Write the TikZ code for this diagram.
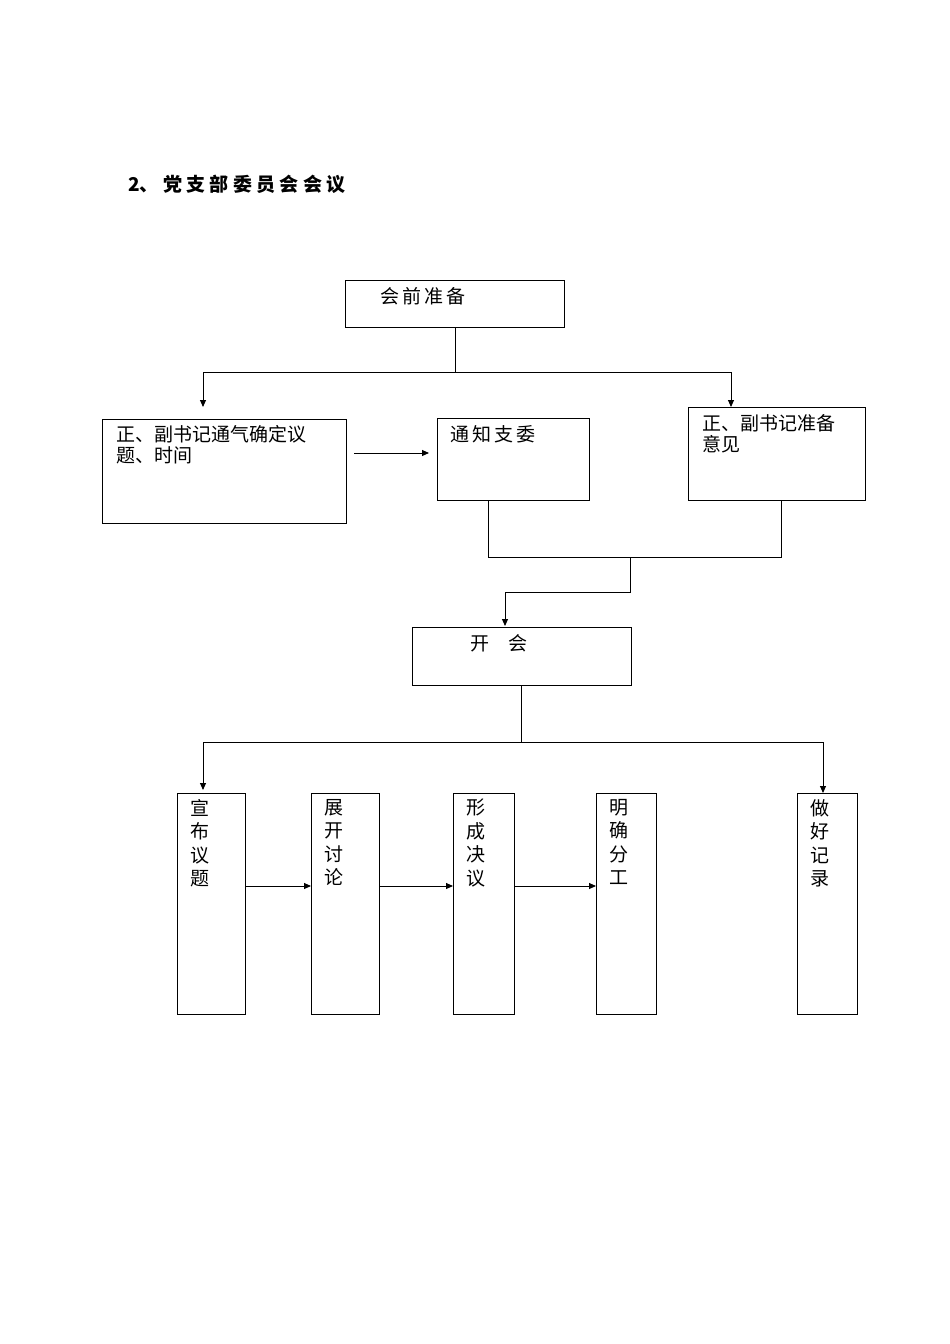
\documentclass[tikz,border=0pt]{standalone}
\usepackage{fontspec}
\newfontfamily\cjk{Noto Sans CJK SC}
\usetikzlibrary{arrows.meta,calc}
\begin{document}
\begin{tikzpicture}[x=1pt,y=-1pt,
  box/.style={draw,line width=0.9pt},
  txt/.style={anchor=north west,inner sep=0pt,font=\cjk\fontsize{19}{21}\selectfont,align=left},
  vtxt/.style={anchor=north west,inner sep=0pt,font=\cjk\fontsize{19}{23.5}\selectfont,align=left},
  ln/.style={line width=0.9pt},
  arr/.style={line width=0.9pt,-{Triangle[length=7pt,width=6pt]}}]
\useasboundingbox (0,0) rectangle (950,1344);
\node[anchor=west,inner sep=0pt,font=\cjk\bfseries\fontsize{19}{21}\selectfont] (title) at (128,184) {2、 党\ 支\ 部\ 委\ 员\ 会\ 会\ 议};
% boxes
\draw[box] (345,280) rectangle (564,327); \node[txt] (t0) at (380,287) {会\,前\,准\,备};
\coordinate (pre) at (455,327);
\draw[box] (102,419) rectangle (346,523); \node[txt] (t1) at (116,425) {正、副书记通气确定议\\题、时间};
\draw[box] (437,418) rectangle (589,500); \node[txt] (t2) at (450,425) {通\,知\,支\,委};
\draw[box] (688,407) rectangle (865,500); \node[txt] (t3) at (702,414) {正、副书记准备\\意见};
\draw[box] (412,627) rectangle (631,685); \node[txt] (t4) at (470,634) {开\quad 会};
\foreach \a/\b/\t/\n in {177/245/宣\\布\\议\\题/b1,311/379/展\\开\\讨\\论/b2,453/514/形\\成\\决\\议/b3,596/656/明\\确\\分\\工/b4,797/857/做\\好\\记\\录/b5}{
  \draw[box] (\a,793) rectangle (\b,1014);
  \node[vtxt] (\n) at (\a+13,799) {\t};
}
% coordinates
\coordinate (c1) at (455,372); \coordinate (L1) at (203,372); \coordinate (R1) at (731,372);
\coordinate (L1e) at (203,407); \coordinate (R1e) at (731,407);
\draw[ln] (pre) -- (c1); \draw[ln] (L1) -- (R1);
\draw[arr] (L1) -- (L1e); \draw[arr] (R1) -- (R1e);
\coordinate (a1) at (354,453); \coordinate (a2) at (429,453);
\draw[arr] (a1) -- (a2);
\coordinate (d1) at (488,500); \coordinate (d2) at (781,500);
\coordinate (e1) at (488,557); \coordinate (e2) at (781,557);
\draw[ln] (d1) -- (e1) -- (e2) -- (d2);
\coordinate (f1) at (630,557); \coordinate (f2) at (630,592); \coordinate (f3) at (505,592); \coordinate (f4) at (505,626);
\draw[ln] (f1) -- (f2) -- (f3); \draw[arr] (f3) -- (f4);
\coordinate (g1) at (521,685); \coordinate (g2) at (521,742);
\coordinate (gl) at (203,742); \coordinate (gr) at (823,742);
\draw[ln] (g1) -- (g2); \draw[ln] (gl) -- (gr);
\draw[arr] (gl) -- (203,790); \draw[arr] (gr) -- (823,793);
\draw[arr] (245,886) -- (311,886);
\draw[arr] (379,886) -- (453,886);
\draw[arr] (514,886) -- (596,886);
\end{tikzpicture}
\end{document}
